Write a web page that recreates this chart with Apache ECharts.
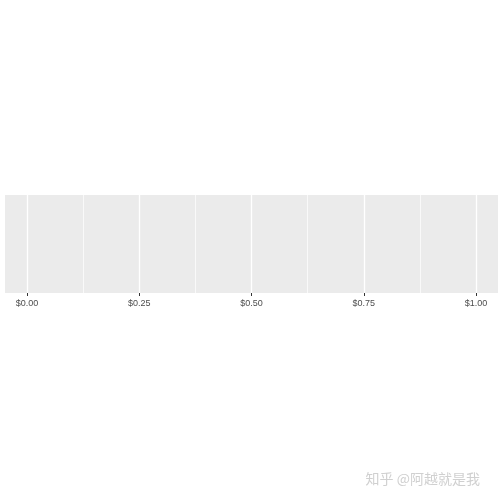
<!DOCTYPE html>
<html>
<head>
<meta charset="utf-8">
<script src="https://cdn.jsdelivr.net/npm/echarts@6/dist/echarts.min.js"></script>
<style>
  html, body { margin: 0; padding: 0; background: #fff; }
  #main { width: 504px; height: 504px; }
</style>
</head>
<body>
<div id="main"></div>
<script>
// x axis break points (no data is drawn, just the empty panel)
var xBreaks = [0, 0.25, 0.5, 0.75, 1];
var xMin = xBreaks[0];
var xMax = xBreaks[xBreaks.length - 1];
var seriesData = [];

var myChart = echarts.init(document.getElementById('main'));
var option = {
  backgroundColor: '#fff',
  animation: false,
  grid: [
    // panel background with ggplot's 5% expansion
    { left: 5, right: 6, top: 195, height: 98, show: true, backgroundColor: '#EBEBEB', borderWidth: 0 },
    // data region 0..1
    { left: 27, right: 28, top: 195, height: 98 }
  ],
  xAxis: [
    { gridIndex: 0, type: 'value', show: false, min: 0, max: 1 },
    {
      gridIndex: 1,
      type: 'value',
      min: xMin,
      max: xMax,
      interval: 0.25,
      axisLine: { show: false },
      axisTick: { show: true, length: 3, lineStyle: { color: '#333333', width: 1 } },
      axisLabel: {
        margin: 6,
        color: '#4D4D4D',
        fontSize: 9,
        fontFamily: 'Liberation Sans, Arial, sans-serif',
        formatter: function (v) { return '$' + v.toFixed(2); }
      },
      splitLine: { show: true, lineStyle: { color: '#FFFFFF', width: 1.3 } },
      minorTick: { show: false, splitNumber: 2 },
      minorSplitLine: { show: true, lineStyle: { color: '#FFFFFF', width: 0.7 } }
    }
  ],
  yAxis: [
    { gridIndex: 0, type: 'value', show: false },
    { gridIndex: 1, type: 'value', show: false, min: 0, max: 1 }
  ],
  graphic: [{
    type: 'text',
    right: 24,
    top: 472,
    style: {
      text: '知乎 @阿越就是我',
      fontSize: 14,
      fontFamily: 'Noto Sans CJK SC',
      fill: '#D0D0D0'
    }
  }],
  series: [{
    type: 'scatter',
    xAxisIndex: 1,
    yAxisIndex: 1,
    data: seriesData
  }]
};
myChart.setOption(option);
</script>
</body>
</html>
